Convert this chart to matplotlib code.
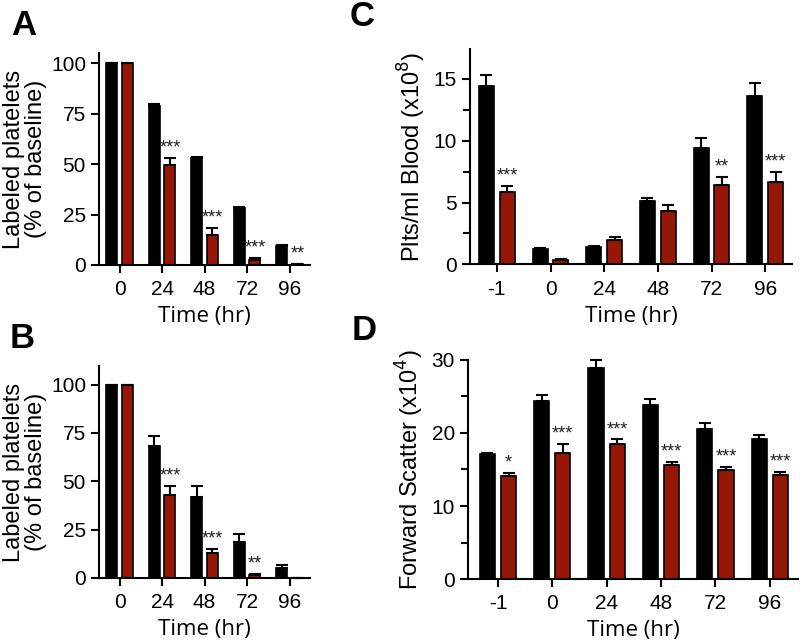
import matplotlib
matplotlib.use('Agg')
import matplotlib.pyplot as plt
import numpy as np
from matplotlib.ticker import MultipleLocator

plt.rcParams['font.family'] = ['Liberation Sans', 'DejaVu Sans']

RED = '#961705'

# panel A: labeled platelets, first experiment
time_ab = ['0', '24', '48', '72', '96']
a_ctrl = [100, 79, 53, 28, 9.5]
a_ctrl_err = [0, 0.6, 0.6, 0.6, 0.4]
a_trt = [100, 49.5, 15, 2.5, 0.3]
a_trt_err = [0, 3.5, 3.5, 0.8, 0.1]
a_stars = ['', '***', '***', '***', '**']

# panel B: labeled platelets, second experiment
b_ctrl = [100, 68.5, 42, 18.5, 5]
b_ctrl_err = [0, 4.7, 5.5, 4.3, 1.8]
b_trt = [100, 43, 13, 1.5, 0]
b_trt_err = [0, 4.5, 2.2, 0.5, 0]
b_stars = ['', '***', '***', '**', '']

# panel C: platelet counts
time_cd = ['-1', '0', '24', '48', '72', '96']
c_ctrl = [14.4, 1.2, 1.4, 5.1, 9.45, 13.65]
c_ctrl_err = [0.9, 0.1, 0.07, 0.25, 0.8, 1.0]
c_trt = [5.85, 0.35, 1.97, 4.35, 6.4, 6.65]
c_trt_err = [0.5, 0.05, 0.27, 0.45, 0.7, 0.8]
c_stars = ['***', '', '', '', '**', '***']

# panel D: forward scatter
d_ctrl = [17.1, 24.3, 28.9, 23.75, 20.55, 19.15]
d_ctrl_err = [0.2, 0.9, 1.05, 0.9, 0.85, 0.6]
d_trt = [14.1, 17.2, 18.5, 15.6, 14.95, 14.3]
d_trt_err = [0.4, 1.3, 0.6, 0.45, 0.45, 0.4]
d_stars = ['*', '***', '***', '***', '***', '***']


def bar_panel(ax, labels, ctrl, ctrl_err, trt, trt_err, stars,
              width, offset, xlim, ylim, yticks, minor=None):
    x = np.arange(len(labels))
    for xs, vals, errs, col in [(x - offset, ctrl, ctrl_err, 'black'),
                                (x + offset, trt, trt_err, RED)]:
        ax.bar(xs, vals, width, color=col, edgecolor='black', linewidth=1.2,
               zorder=2)
        ax.errorbar(xs, vals, yerr=[np.zeros(len(errs)), errs], fmt='none',
                    ecolor='black', elinewidth=1.5, capsize=4, capthick=1.5,
                    zorder=3, clip_on=False)
    for xi, v, e, s in zip(x + offset, trt, trt_err, stars):
        if s:
            ax.annotate(s, (xi, v + e), xytext=(0, 1),
                        textcoords='offset points', ha='center', va='bottom',
                        fontsize=13, color='#222222')
    ax.set_xticks(x)
    ax.set_xticklabels(labels)
    ax.set_xlim(*xlim)
    ax.set_ylim(*ylim)
    ax.set_yticks(yticks)
    if minor:
        ax.yaxis.set_minor_locator(MultipleLocator(minor))
        ax.tick_params(axis='y', which='minor', length=5, width=1.5)
    for side in ['top', 'right']:
        ax.spines[side].set_visible(False)
    for side in ['left', 'bottom']:
        ax.spines[side].set_linewidth(1.5)
    ax.tick_params(axis='both', which='major', length=6, width=1.5,
                   labelsize=15, direction='out')
    ax.tick_params(axis='x', pad=5)
    ax.set_xlabel('Time (hr)', fontsize=16, family=['Open Sans', 'DejaVu Sans'],
                  labelpad=5)


fig = plt.figure(figsize=(8, 6.4), dpi=100)

ax_a = fig.add_axes([0.124, 0.586, 0.264, 0.331])
bar_panel(ax_a, time_ab, a_ctrl, a_ctrl_err, a_trt, a_trt_err, a_stars,
          0.26, 0.185, (-0.48, 4.49), (0, 105), [0, 25, 50, 75, 100])
ax_a.set_ylabel('Labeled platelets\n(% of baseline)', fontsize=17,
                labelpad=3, linespacing=1.0)

ax_b = fig.add_axes([0.124, 0.097, 0.264, 0.331])
bar_panel(ax_b, time_ab, b_ctrl, b_ctrl_err, b_trt, b_trt_err, b_stars,
          0.26, 0.185, (-0.48, 4.49), (0, 109.6), [0, 25, 50, 75, 100])
ax_b.set_ylabel('Labeled platelets\n(% of baseline)', fontsize=17,
                labelpad=3, linespacing=1.0)

ax_c = fig.add_axes([0.5875, 0.587, 0.4025, 0.336])
bar_panel(ax_c, time_cd, c_ctrl, c_ctrl_err, c_trt, c_trt_err, c_stars,
          0.28, 0.195, (-0.5, 5.5), (0, 17.4), [0, 5, 10, 15], minor=2.5)
ax_c.set_ylabel('Plts/ml Blood (x10$^8$)', fontsize=17, labelpad=4)

ax_d = fig.add_axes([0.585, 0.095, 0.4125, 0.343])
bar_panel(ax_d, time_cd, d_ctrl, d_ctrl_err, d_trt, d_trt_err, d_stars,
          0.28, 0.195, (-0.55, 5.52), (0, 30), [0, 10, 20, 30], minor=5)
ax_d.set_ylabel('Forward Scatter (x10$^4$)', fontsize=17, labelpad=4)

for lab, x, y in [('A', 0.014, 0.946), ('B', 0.012, 0.457),
                  ('C', 0.437, 0.960), ('D', 0.44, 0.468)]:
    fig.text(x, y, lab, fontsize=25, fontweight='bold')

fig.savefig('out.png', dpi=100)
